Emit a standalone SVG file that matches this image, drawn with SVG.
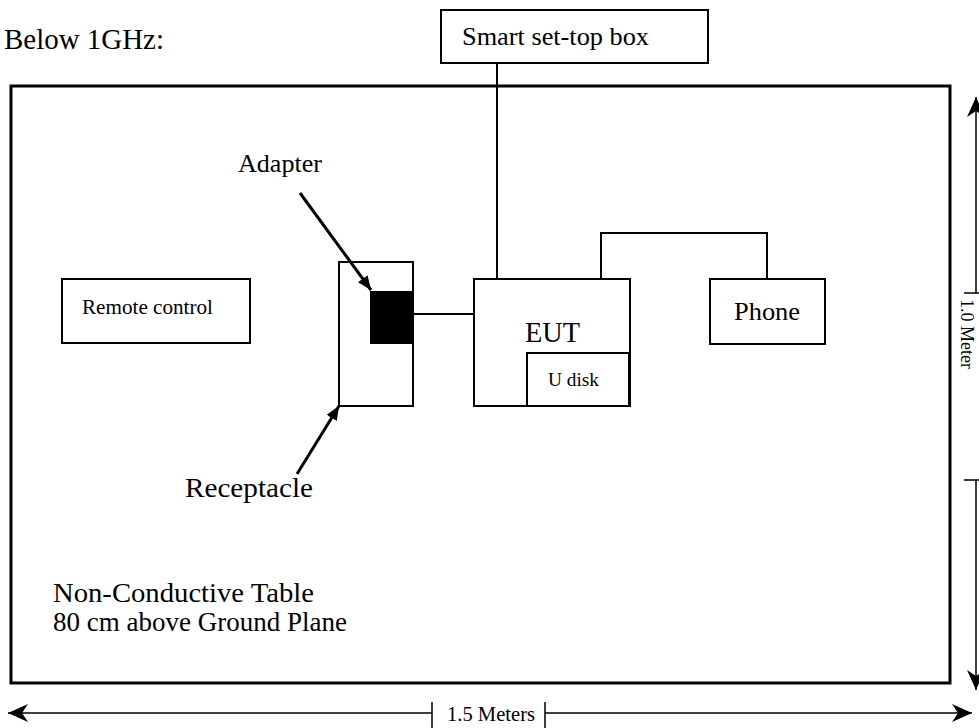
<svg xmlns="http://www.w3.org/2000/svg" width="979" height="728" viewBox="0 0 979 728">
<style>
text{font-family:"Liberation Serif","Times New Roman",serif;fill:#000}
.box{fill:#fff;stroke:#000;stroke-width:2}
.wire{fill:none;stroke:#000;stroke-width:2}
.ptr{fill:none;stroke:#000;stroke-width:3;marker-end:url(#tri)}
.dim{fill:none;stroke:#000;stroke-width:1.5}
</style>
<defs>
<marker id="tri" viewBox="0 0 14 12" refX="14" refY="6" markerWidth="14" markerHeight="12" markerUnits="userSpaceOnUse" orient="auto">
<path d="M0,0 L14,6 L0,12 z" fill="#000"/>
</marker>
<marker id="stealth" viewBox="0 0 20 18" refX="20" refY="9" markerWidth="20" markerHeight="18" markerUnits="userSpaceOnUse" orient="auto">
<path d="M0,0 L20,9 L0,18 L6,9 z" fill="#000"/>
</marker>
</defs>
<rect width="979" height="728" fill="#fff"/>
<text x="4" y="49" font-size="29" textLength="160" lengthAdjust="spacingAndGlyphs">Below 1GHz:</text>

<g id="table">
<rect x="11" y="86" width="939" height="597" fill="none" stroke="#000" stroke-width="3"/>
<text x="53" y="602" font-size="27" textLength="261" lengthAdjust="spacingAndGlyphs">Non-Conductive Table</text>
<text x="53" y="631" font-size="27">80 cm above Ground Plane</text>
</g>

<g id="stb">
<rect class="box" x="441" y="10" width="267" height="53"/>
<text x="462" y="45" font-size="26" textLength="187" lengthAdjust="spacingAndGlyphs">Smart set-top box</text>
</g>

<g id="remote">
<rect class="box" x="62" y="279" width="188" height="64"/>
<text x="82" y="314" font-size="21" textLength="131" lengthAdjust="spacingAndGlyphs">Remote control</text>
</g>

<g id="receptacle">
<rect class="box" x="339" y="262" width="74" height="144"/>
<text x="185" y="497" font-size="27" textLength="128" lengthAdjust="spacingAndGlyphs">Receptacle</text>
</g>

<g id="adapter">
<rect x="370" y="291" width="43" height="53" fill="#000"/>
<text x="238" y="172" font-size="26" textLength="84" lengthAdjust="spacingAndGlyphs">Adapter</text>
</g>

<g id="eut">
<rect class="box" x="474" y="279" width="156" height="127"/>
<text x="525" y="342" font-size="30" textLength="55" lengthAdjust="spacingAndGlyphs">EUT</text>
</g>

<g id="udisk">
<rect class="box" x="527" y="353" width="102" height="53"/>
<text x="548" y="386" font-size="19" textLength="51" lengthAdjust="spacingAndGlyphs">U disk</text>
</g>

<g id="phone">
<rect class="box" x="710" y="279" width="115" height="65"/>
<text x="734" y="320" font-size="26" textLength="66" lengthAdjust="spacingAndGlyphs">Phone</text>
</g>

<g id="connectors">
<path class="wire" d="M497,63 V279"/>
<path class="wire" d="M413,314 H474"/>
<path class="wire" d="M601,279 V233 H767 V279"/>
<path class="ptr" d="M300,193 L371,290"/>
<path class="ptr" d="M297,474 L339,406"/>
</g>

<g id="dim-width">
<path class="dim" d="M432,713 H8" marker-end="url(#stealth)"/>
<path class="dim" d="M545,713 H972" marker-end="url(#stealth)"/>
<path class="dim" d="M432,702 V728 M545,702 V728"/>
<text x="491" y="721" font-size="20" text-anchor="middle" textLength="88" lengthAdjust="spacingAndGlyphs">1.5 Meters</text>
</g>

<g id="dim-height">
<path class="dim" d="M976,293 V97" marker-end="url(#stealth)"/>
<path class="dim" d="M976,480 V690" marker-end="url(#stealth)"/>
<path class="dim" d="M964,293 H988 M964,480 H988"/>
<text transform="translate(961,299) rotate(90)" x="0" y="0" font-size="18">1.0 Meter</text>
</g>
</svg>
